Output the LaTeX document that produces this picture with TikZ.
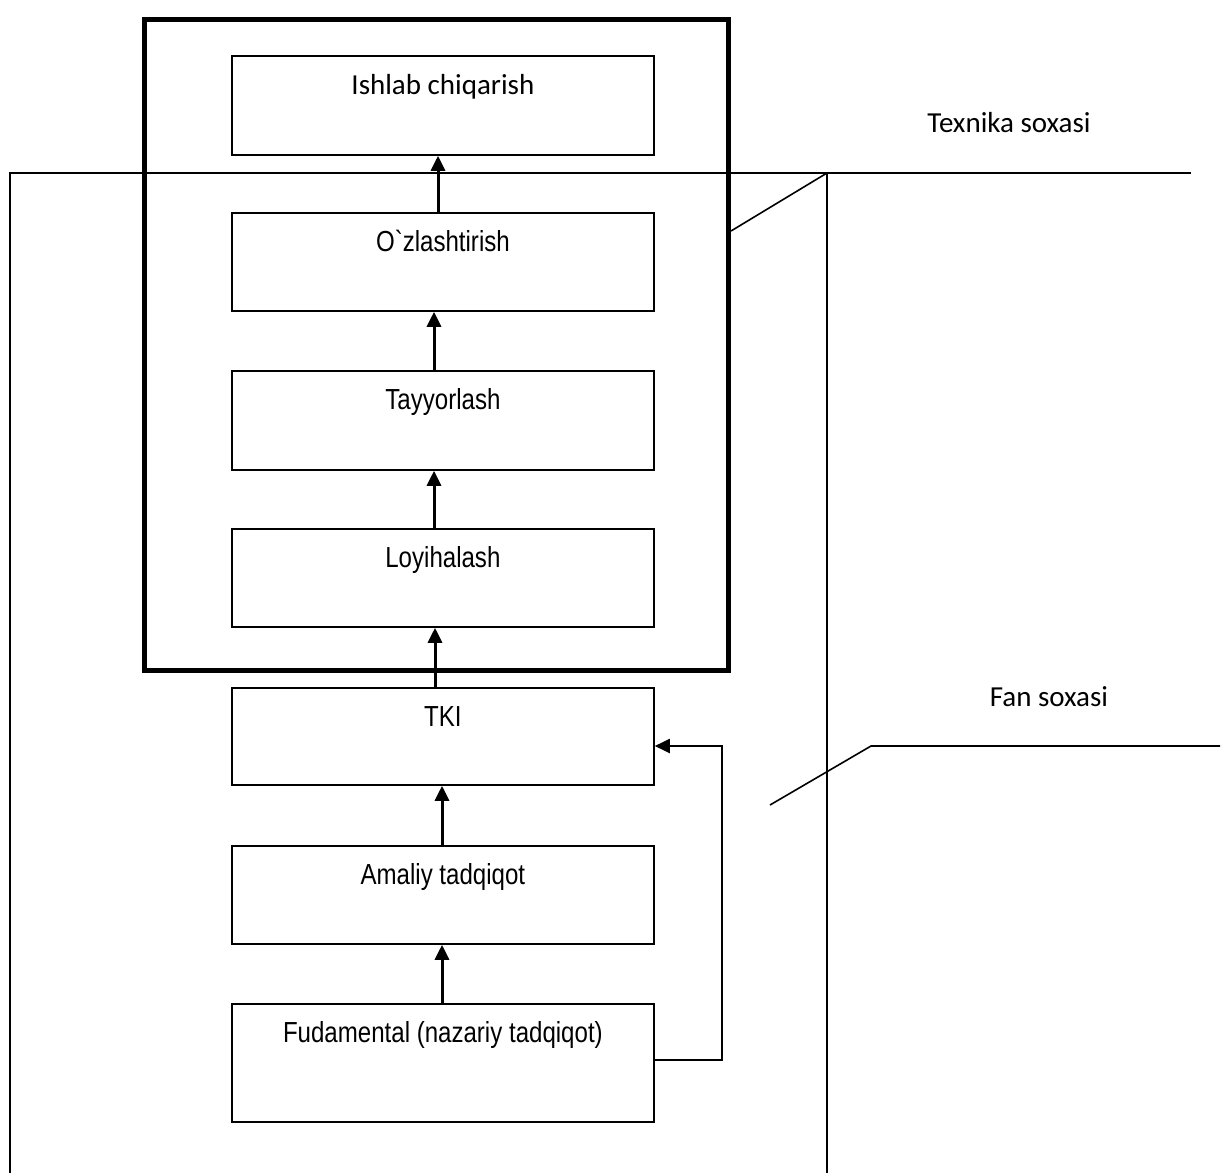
\documentclass[tikz,border=0pt]{standalone}
\usepackage{fontspec}
\newfontfamily\arnfont[FakeStretch=0.83,Ligatures=TeXOff]{Liberation Sans}
\newfontfamily\calfont{Carlito}
\usetikzlibrary{arrows.meta}
\begin{document}
\begin{tikzpicture}[x=1pt,y=-1pt,
  thin/.style={line width=1.6pt},
  box/.style={draw, line width=1.8pt, minimum width=422pt, inner sep=0pt, anchor=north west,
    text height=39pt, font=\arnfont\fontsize{29}{34}\selectfont},
  lbl/.style={font=\calfont\fontsize{29}{34}\selectfont, inner sep=0pt},
  arr/.style={line width=3pt, -{Triangle[length=15pt,width=14pt]}}]
\useasboundingbox (0,0) rectangle (1227,1173);
% thick frame
\node[draw, line width=5pt, minimum width=584pt, minimum height=651pt, inner sep=0pt, anchor=north west] (frame) at (142,17) {};
% boxes
\node[box, text depth=60pt, font=\calfont\fontsize{29}{34}\selectfont] (ish) at (231,55) {Ishlab chiqarish};
\node[box, text depth=59pt] (ozl) at (231,212) {O\symbol{96}zlashtirish};
\node[box, text depth=60pt] (tay) at (231,370) {Tayyorlash};
\node[box, text depth=59pt] (loy) at (231,528) {Loyihalash};
\node[box, text depth=58pt] (tki) at (231,687) {TKI};
\node[box, text depth=59pt] (ama) at (231,845) {Amaliy tadqiqot};
\node[box, text depth=79pt] (fud) at (231,1003) {Fudamental (nazariy tadqiqot)};
% area lines
\coordinate (tl) at (10,173);
\coordinate (tr) at (1191,173);
\coordinate (vx) at (827,173);
\coordinate (bl) at (10,1173);
\coordinate (bv) at (827,1173);
\draw[thin] (bl) -- (tl) -- (tr);
\draw[thin] (vx) -- (bv);
\draw[thin] (frame.east |- 0,231) -- (vx);
\coordinate (f1) at (770,805);
\coordinate (f2) at (871,746);
\coordinate (f3) at (1220,746);
\draw[thin] (f1) -- (f2) -- (f3);
% labels
\node[lbl] (tex) at (1009,123) {Texnika soxasi};
\node[lbl] (fan) at (1049,697) {Fan soxasi};
% arrows
\draw[arr] (ozl.north -| 438,0) -- (ish.south -| 438,0);
\draw[arr] (tay.north -| 434,0) -- (ozl.south -| 434,0);
\draw[arr] (loy.north -| 434,0) -- (tay.south -| 434,0);
\draw[arr] (tki.north -| 435,0) -- (loy.south -| 435,0);
\draw[arr] (ama.north -| 442,0) -- (tki.south -| 442,0);
\draw[arr] (fud.north -| 442,0) -- (ama.south -| 442,0);
\draw[arr, line width=2pt] (fud.east |- 0,1060) -| (722,746) -- (tki.east |- 0,746);
\end{tikzpicture}
\end{document}
